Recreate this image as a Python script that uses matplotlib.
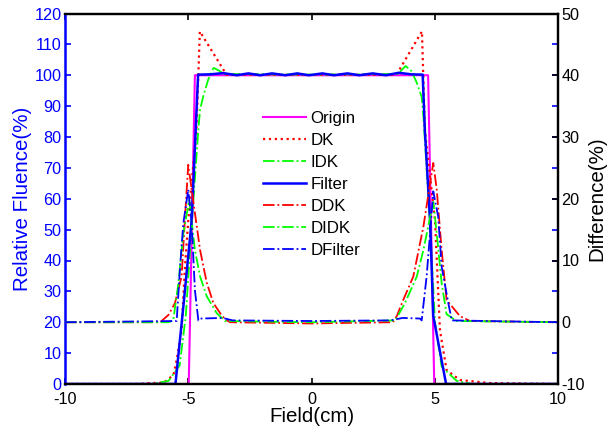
import numpy as np
import matplotlib
matplotlib.use("Agg")
import matplotlib.pyplot as plt

plt.rcParams["font.family"] = ["Liberation Sans", "DejaVu Sans"]
plt.rcParams["axes.unicode_minus"] = False

# ── Relative fluence profiles (left axis, %) ──────────────────────────────────
origin_x = [-10, -4.98, -4.73, 4.73, 4.98, 10]
origin_y = [0, 0, 100, 100, 0, 0]

dk_x = [-10, -7.0, -6.6, -6.0, -5.6, -5.47, -5.27, -5.14, -5.0, -4.67, -4.53,
        -3.45, 0, 3.45, 4.48, 4.6, 5.01, 5.21, 5.48, 6.02, 7.24, 10]
dk_y = [0, 0, 0.3, 0.4, 2.9, 7.8, 17.5, 37, 53, 82, 114.2,
        100.2, 100.1, 100.2, 114.2, 82, 53, 17.5, 4.5, 1.3, 0.3, 0]

idk_x = [-10, -6.5, -5.8, -5.35, -5.1, -4.85, -4.59, -4.52, -4.39, -4.19, -3.97,
         -3.5, 0, 3.5, 3.82, 4.06, 4.27, 4.47, 4.54, 4.8, 5.01, 5.28, 5.89, 6.5, 10]
idk_y = [0, 0, 1, 6, 22, 53, 82.4, 88.9, 93.2, 98.6, 102.4,
         100.4, 100.2, 100.4, 103, 101.3, 97.6, 93, 86.7, 53, 20, 5.6, 1, 0, 0]

filt_x = [-10, -5.52, -5.2, -4.86, -4.6, -4.1, -3.58, -3.03, -2.56, -2.08, -1.6,
          -1.06, -0.58, -0.11, 0.44, 0.91, 1.46, 1.93, 2.48, 3.02, 3.54, 4.05,
          4.51, 4.6, 4.81, 4.94, 5.46, 10]
filt_y = [0, 0, 25, 53, 100.2, 100.3, 100.7, 100.0, 100.6, 100.0, 100.6,
          100.0, 100.6, 100.0, 100.6, 100.0, 100.6, 100.0, 100.6, 100.0, 100.8, 100.3,
          100.2, 82, 53, 22, 0, 0]

# ── Differences (right axis, %) ───────────────────────────────────────────────
ddk_x = [-10, -6.14, -5.8, -5.54, -5.27, -5.13, -5.0, -4.73, -4.52, -4.25, -3.98,
         -3.71, -3.51, -3.3, -1.5, 0, 1.5, 3.3, 3.46, 3.72, 4.13, 4.54, 4.94,
         5.08, 5.28, 5.48, 6.02, 6.43, 10]
ddk_y = [0, 0, 1.2, 3.1, 7.4, 17.1, 25.5, 17.7, 11.7, 6.4, 3.1,
         1.5, 0.5, 0, -0.1, -0.2, -0.1, 0, 1, 3.6, 7.4, 15.5, 25.8,
         21.5, 11.7, 3.6, 1, 0.2, 0]

didk_x = [-10, -5.8, -5.61, -5.4, -5.2, -4.96, -4.73, -4.52, -4.25, -3.85, -3.51,
          0, 3.4, 3.79, 4.27, 4.54, 4.94, 5.08, 5.28, 5.48, 5.89, 10]
didk_y = [0, 0, 0.3, 6.3, 14.4, 19.8, 11.7, 7.4, 4.2, 1.5, 0.2,
          0, 0.3, 3.1, 7.4, 11.7, 19.5, 14.4, 6.3, 1.3, 0.2, 0]

dfilt_x = [-10, -5.47, -5.33, -5.2, -5.0, -4.86, -4.73, -4.59, -4.5, -3.6, -3.2,
           0, 3.2, 3.7, 4.4, 4.47, 4.67, 4.81, 4.94, 5.14, 5.28, 5.55, 5.69, 10]
dfilt_y = [0, 0.2, 9.1, 16, 21.5, 16, 5.2, 0.3, 0.6, 0.7, 0.3,
           0.2, 0.3, 0.7, 0.6, 0.3, 7.4, 14.4, 21.2, 17.1, 9.0, 3.1, 0.3, 0]

blue = "#0000ff"
W, H = 607, 434
fig = plt.figure(figsize=(W / 100, H / 100), dpi=100)
ax1 = fig.add_axes([65 / W, 1 - 384 / H, 493 / W, 370.5 / H])
ax2 = ax1.twinx()

h1, = ax1.plot(origin_x, origin_y, color="#ff00ff", lw=1.5, ls="-", label="Origin")
h2, = ax1.plot(dk_x, dk_y, color="#ff0000", lw=1.6, ls=":", label="DK")
h3, = ax1.plot(idk_x, idk_y, color="#00ff00", lw=1.3, ls="-.", label="IDK")
h4, = ax1.plot(filt_x, filt_y, color=blue, lw=1.8, ls="-", label="Filter")

h5, = ax2.plot(ddk_x, ddk_y, color="#ff0000", lw=1.3, ls="-.", label="DDK")
h6, = ax2.plot(didk_x, didk_y, color="#00ff00", lw=1.3, ls="-.", label="DIDK")
h7, = ax2.plot(dfilt_x, dfilt_y, color=blue, lw=1.3, ls="-.", label="DFilter")

ax1.set_xlim(-10, 10)
ax1.set_ylim(0, 120)
ax2.set_ylim(-10, 50)
ax1.set_xticks([-10, -5, 0, 5, 10])
ax1.set_yticks(np.arange(0, 121, 10))
ax2.set_yticks(np.arange(-10, 51, 10))

fs_tick = 11.7
ax1.tick_params(axis="x", direction="in", top=True, length=4, width=1.2,
                labelsize=fs_tick, pad=6, colors="black")
ax1.tick_params(axis="y", direction="in", left=True, right=True, labelleft=True,
                labelright=False, length=4, width=1.2, labelsize=fs_tick, pad=2.5,
                colors=blue)
ax2.tick_params(axis="y", direction="in", length=4, width=1.2,
                labelsize=fs_tick, pad=2.5, colors="black")

for s in ["top", "bottom", "right"]:
    ax1.spines[s].set_linewidth(1.6)
    ax1.spines[s].set_color("black")
ax1.spines["left"].set_linewidth(1.8)
ax1.spines["left"].set_color(blue)
ax2.spines["left"].set_visible(False)
for s in ["top", "bottom", "right"]:
    ax2.spines[s].set_linewidth(1.6)
    ax2.spines[s].set_color("black")

fs_lab = 14.8
ax1.set_xlabel("Field(cm)", fontsize=fs_lab, labelpad=0)
ax1.set_ylabel("Relative Fluence(%)", fontsize=fs_lab, color=blue)
ax1.yaxis.set_label_coords(-0.067, 0.5)
ax2.set_ylabel("Difference(%)", fontsize=fs_lab, color="black")
ax2.yaxis.set_label_coords(1.059, 0.5)

handles = [h1, h2, h3, h4, h5, h6, h7]
ax2.legend(handles, [h.get_label() for h in handles], loc="upper left",
           bbox_to_anchor=(0.402, 0.738), frameon=False, fontsize=12.2,
           handlelength=2.5, handletextpad=0.3, labelspacing=0.42,
           borderpad=0, borderaxespad=0)

fig.savefig("out.png", dpi=100)
